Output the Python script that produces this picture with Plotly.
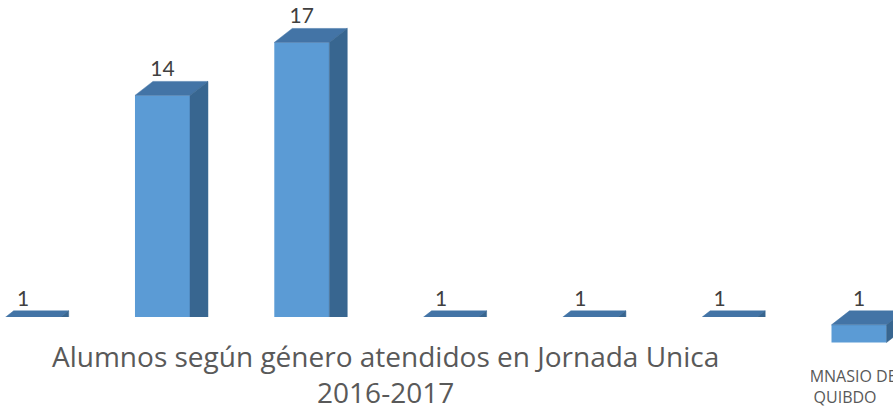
import plotly.graph_objects as go

# ---- data ----
values = [1, 14, 17, 1, 1, 1, 1]
# only the last category label is visible in the reference (others hidden behind the title box)
category_labels = ["", "", "", "", "", "", "GIMNASIO DE<br>QUIBDO"]
data_labels = [str(v) for v in values]
title_lines = ["Alumnos según género atendidos en Jornada Unica", "2016-2017"]

# ---- styling / geometry ----
FRONT = "#5B9BD5"
TOP = "#4374A6"
SIDE = "#386690"
BAR_W = 0.395
DX = 0.129   # depth offset in x units
DY = 0.793   # depth offset in y units
LABEL_SHIFT = -0.1
NUM_FONT = "Lato"
TXT_FONT = "Open Sans"

x = list(range(len(values)))

top_x, top_y, side_x, side_y = [], [], [], []
for xi, v in zip(x, values):
    x0, x1 = xi - BAR_W / 2, xi + BAR_W / 2
    top_x += [x0, x0 + DX, x1 + DX, x1, x0, None]
    top_y += [v, v + DY, v + DY, v, v, None]
    side_x += [x1, x1 + DX, x1 + DX, x1, x1, None]
    side_y += [v, v + DY, DY, 0, v, None]

fig = go.Figure()
fig.add_bar(x=x, y=values, width=BAR_W,
            marker=dict(color=FRONT, line=dict(width=0)), hoverinfo="skip")
fig.add_scatter(x=top_x, y=top_y, fill="toself", mode="lines",
                line=dict(width=0.5, color=TOP), fillcolor=TOP, hoverinfo="skip")
fig.add_scatter(x=side_x, y=side_y, fill="toself", mode="lines",
                line=dict(width=0.5, color=SIDE), fillcolor=SIDE, hoverinfo="skip")
fig.add_scatter(x=x, y=[v + DY for v in values], mode="text", text=data_labels,
                textposition="top center",
                textfont=dict(family=NUM_FONT, size=21, color="#404040"), hoverinfo="skip")

# white title box overlaying the lower part of the chart
fig.add_shape(type="rect", xref="paper", yref="paper",
              x0=-0.01, x1=0.908, y0=-0.25, y1=0.1315,
              fillcolor="white", line=dict(width=0), layer="above")

fig.add_annotation(xref="paper", yref="paper", x=0.432, y=-0.025,
                   xanchor="center", yanchor="middle", showarrow=False,
                   text="<br>".join(title_lines),
                   font=dict(family=TXT_FONT, size=28, color="#595959"))

fig.update_layout(
    width=893, height=411,
    margin=dict(l=0, r=0, t=0, b=46, autoexpand=False),
    paper_bgcolor="white", plot_bgcolor="white",
    showlegend=False,
    xaxis=dict(range=[-0.1665, 6.244], tickvals=[xi + LABEL_SHIFT for xi in x],
               ticktext=category_labels, showgrid=False, zeroline=False,
               showline=False, ticks="", ticklabeloverflow="allow", automargin=False,
               tickfont=dict(family=TXT_FONT, size=16, color="#595959")),
    yaxis=dict(range=[-1.275, 19.405], visible=False, automargin=False),
)

fig.write_html("out.html", config={"displayModeBar": False},
               post_script="document.body.style.margin='0';")
